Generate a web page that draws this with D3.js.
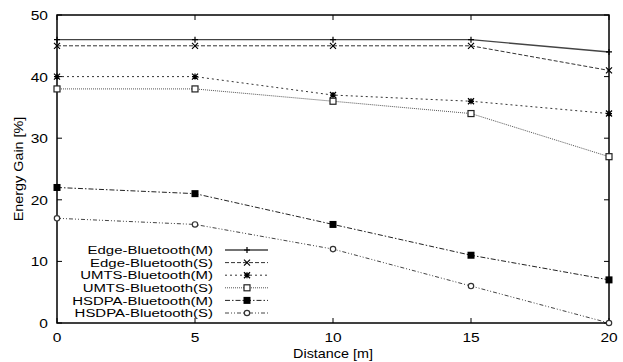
<!DOCTYPE html>
<html>
<head>
<meta charset="utf-8">
<script src="https://cdn.jsdelivr.net/npm/d3@7"></script>
<style>
  body { margin: 0; background: #fff; }
  text { font-family: "Liberation Sans", Arial, sans-serif; }
</style>
</head>
<body>
<div id="app"></div>
<script>
const distances = [0, 5, 10, 15, 20];
const xTicks = [0, 5, 10, 15, 20];
const yTicks = [0, 10, 20, 30, 40, 50];

const edgeM = [46, 46, 46, 46, 44];
const edgeS = [45, 45, 45, 45, 41];
const umtsM = [40, 40, 37, 36, 34];
const umtsS = [38, 38, 36, 34, 27];
const hsdpaM = [22, 21, 16, 11, 7];
const hsdpaS = [17, 16, 12, 6, 0];

const seriesNames = ['Edge-Bluetooth(M)', 'Edge-Bluetooth(S)', 'UMTS-Bluetooth(M)',
  'UMTS-Bluetooth(S)', 'HSDPA-Bluetooth(M)', 'HSDPA-Bluetooth(S)'];
const seriesValues = [edgeM, edgeS, umtsM, umtsS, hsdpaM, hsdpaS];

// gnuplot-ish monochrome styles
const dashes = [null, '4,2', '2,3', '1,1', '5,2,1.5,2', '4,2,1,2,1,2'];
const strokes = ['#444', '#333', '#333', '#555', '#222', '#444'];
const markers = ['plus', 'cross', 'star', 'square', 'fsquare', 'circle'];

const W = 623, H = 362;
const margin = { left: 57, right: 14, top: 15, bottom: 39 };
const STRETCH = 1.15;  // glyphs in the original are a bit wide

const svg = d3.select('#app').append('svg')
  .attr('width', W)
  .attr('height', H);

const x = d3.scaleLinear().domain([0, 20]).range([margin.left, W - margin.right]);
const y = d3.scaleLinear().domain([0, 50]).range([H - margin.bottom, margin.top]);

function label(g, tx, ty, str, anchor, size, stretch = STRETCH) {
  return g.append('text')
    .attr('transform', `translate(${tx},${ty}) scale(${stretch},1)`)
    .attr('text-anchor', anchor)
    .attr('font-size', size)
    .text(str);
}

// frame
svg.append('rect')
  .attr('x', x(0)).attr('y', y(50))
  .attr('width', x(20) - x(0)).attr('height', y(0) - y(50))
  .attr('fill', 'none').attr('stroke', '#000').attr('stroke-width', 1.5);

// ticks (inward, mirrored)
const TICK = 5;
const tickG = svg.append('g').attr('stroke', '#000').attr('stroke-width', 1);
xTicks.forEach(t => {
  tickG.append('line').attr('x1', x(t)).attr('x2', x(t)).attr('y1', y(0)).attr('y2', y(0) - TICK);
  tickG.append('line').attr('x1', x(t)).attr('x2', x(t)).attr('y1', y(50)).attr('y2', y(50) + TICK);
});
yTicks.forEach(t => {
  tickG.append('line').attr('x1', x(0)).attr('x2', x(0) + TICK).attr('y1', y(t)).attr('y2', y(t));
  tickG.append('line').attr('x1', x(20)).attr('x2', x(20) - TICK).attr('y1', y(t)).attr('y2', y(t));
});

const xLab = svg.append('g');
xTicks.forEach(t => label(xLab, x(t), y(0) + 19, t, 'middle', 13.5));

const yLab = svg.append('g');
yTicks.forEach(t => label(yLab, x(0) - 9, y(t) + 5, t, 'end', 13.5));

label(svg, (x(0) + x(20)) / 2, H - 4, 'Distance [m]', 'middle', 12.5);

svg.append('text')
  .attr('transform', `translate(23,${(y(0) + y(50)) / 2}) rotate(-90) scale(${STRETCH},1)`)
  .attr('text-anchor', 'middle').attr('font-size', 12.5)
  .text('Energy Gain [%]');

function drawMarker(g, type, cx, cy) {
  const s = 3;
  if (type === 'plus') {
    g.append('path').attr('d', `M${cx - s},${cy}H${cx + s}M${cx},${cy - s}V${cy + s}`)
      .attr('stroke', '#000').attr('stroke-width', 1.2);
  } else if (type === 'cross') {
    g.append('path').attr('d', `M${cx - s},${cy - s}L${cx + s},${cy + s}M${cx - s},${cy + s}L${cx + s},${cy - s}`)
      .attr('stroke', '#000').attr('stroke-width', 1.2);
  } else if (type === 'star') {
    g.append('path').attr('d', `M${cx - s},${cy - s}L${cx + s},${cy + s}M${cx - s},${cy + s}L${cx + s},${cy - s}M${cx - s},${cy}H${cx + s}M${cx},${cy - s}V${cy + s}`)
      .attr('stroke', '#000').attr('stroke-width', 1.3);
  } else if (type === 'square') {
    g.append('rect').attr('x', cx - s).attr('y', cy - s).attr('width', 2 * s).attr('height', 2 * s)
      .attr('fill', '#fff').attr('stroke', '#222').attr('stroke-width', 1.2);
  } else if (type === 'fsquare') {
    g.append('rect').attr('x', cx - s - 0.5).attr('y', cy - s - 0.5).attr('width', 2 * s + 1).attr('height', 2 * s + 1)
      .attr('fill', '#000');
  } else if (type === 'circle') {
    g.append('circle').attr('cx', cx).attr('cy', cy).attr('r', s - 0.3)
      .attr('fill', '#fff').attr('stroke', '#333').attr('stroke-width', 1.2);
  }
}

const line = d3.line().x(d => x(d[0])).y(d => y(d[1]));

seriesValues.forEach((vals, i) => {
  const pts = distances.map((d, j) => [d, vals[j]]);
  const g = svg.append('g');
  g.append('path')
    .attr('d', line(pts))
    .attr('fill', 'none')
    .attr('stroke', strokes[i])
    .attr('stroke-width', i === 0 ? 1.4 : 1)
    .attr('stroke-dasharray', dashes[i]);
  pts.forEach(p => drawMarker(g, markers[i], x(p[0]), y(p[1])));
});

// legend
const legendTextX = 213;
const legendY0 = 250;
const legendStep = 12.6;
seriesNames.forEach((name, i) => {
  const ly = legendY0 + i * legendStep;
  const g = svg.append('g');
  label(g, legendTextX, ly + 4.2, name, 'end', 11.5, 1.3);
  g.append('line')
    .attr('x1', 225).attr('x2', 268).attr('y1', ly).attr('y2', ly)
    .attr('stroke', strokes[i])
    .attr('stroke-width', i === 0 ? 1.4 : 1)
    .attr('stroke-dasharray', dashes[i]);
  drawMarker(g, markers[i], 247, ly);
});
</script>
</body>
</html>
